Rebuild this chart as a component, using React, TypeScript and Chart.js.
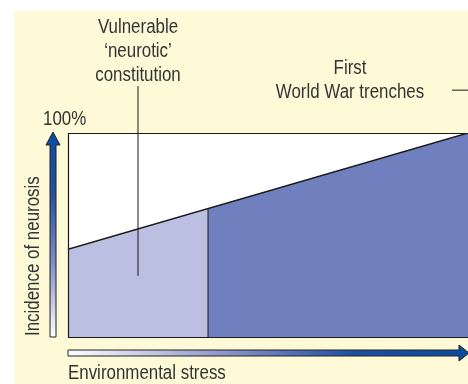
import React, { useEffect, useRef } from "react";
import { Chart, registerables } from "chart.js";

Chart.register(...registerables);

// Data (x = environmental stress 0..100, y = incidence of neurosis 0..100%)
const xRange = [0, 100];
const yRange = [0, 100];
const trendStart = { x: 0, y: 43 };
const trendEnd = { x: 100, y: 100 };
const splitX = 35;
const splitY = 63;
const vulnerableCallout = [{ x: 17.5, y: 30 }, { x: 17.5, y: 123 }];
const trenchesCallout = [{ x: 96, y: 121 }, { x: 101, y: 121 }];
const vulnerableLabel = ["Vulnerable", "\u2018neurotic\u2019", "constitution"];
const trenchesLabel = ["First", "World War trenches"];
const yTickLabel = "100%";
const yAxisTitle = "Incidence of neurosis";
const xAxisTitle = "Environmental stress";

const FONT = '20px "Liberation Sans", Arial, sans-serif';
const SQUEEZE = 0.845;
const TEXT = "#333333";
const CREAM = "#fef9d6";
const LIGHT = "#bbbfe1";
const DARK = "#7080be";

function narrowText(ctx: any, t: string, x: number, y: number, align: "left" | "center") {
  ctx.save();
  ctx.translate(x, y);
  ctx.scale(SQUEEZE, 1);
  ctx.textAlign = align;
  ctx.fillText(t, 0, 0);
  ctx.restore();
}

function decorPlugin() {
  return {
    id: "decor",
    beforeDraw(chart: any) {
      const { ctx, width, height, chartArea } = chart;
      ctx.save();
      ctx.fillStyle = "#ffffff";
      ctx.fillRect(0, 0, width, height);
      ctx.fillStyle = CREAM;
      ctx.fillRect(14, 11, width - 14, height - 11);
      ctx.fillStyle = "#ffffff";
      ctx.fillRect(chartArea.left, chartArea.top, chartArea.right - chartArea.left, chartArea.bottom - chartArea.top);
      ctx.restore();
    },
    afterDatasetsDraw(chart: any) {
      const { ctx, chartArea } = chart;
      const { left, top, right, bottom } = chartArea;
      ctx.save();
      ctx.strokeStyle = "#1a1a1a";
      ctx.lineWidth = 1.2;
      ctx.beginPath();
      ctx.moveTo(right + 2, top + 0.5);
      ctx.lineTo(left + 0.5, top + 0.5);
      ctx.lineTo(left + 0.5, bottom + 0.5);
      ctx.lineTo(right + 2, bottom + 0.5);
      ctx.stroke();

      // vertical arrow
      const vx = left - 15;
      const vg = ctx.createLinearGradient(0, top, 0, bottom);
      vg.addColorStop(0, "#0b4b9f");
      vg.addColorStop(0.3, "#2452a4");
      vg.addColorStop(0.65, "#8490c8");
      vg.addColorStop(1, "#ffffff");
      ctx.fillStyle = vg;
      ctx.strokeStyle = "#222";
      ctx.lineWidth = 1;
      ctx.beginPath();
      ctx.moveTo(vx, top - 1);
      ctx.lineTo(vx + 7, top + 12);
      ctx.lineTo(vx + 3, top + 12);
      ctx.lineTo(vx + 3, bottom);
      ctx.lineTo(vx - 3, bottom);
      ctx.lineTo(vx - 3, top + 12);
      ctx.lineTo(vx - 7, top + 12);
      ctx.closePath();
      ctx.fill();
      ctx.stroke();

      // horizontal arrow
      const hy = bottom + 16;
      const hg = ctx.createLinearGradient(left, 0, right, 0);
      hg.addColorStop(0, "#ffffff");
      hg.addColorStop(0.45, "#7a86c2");
      hg.addColorStop(0.72, "#1b4fa2");
      hg.addColorStop(1, "#0b4b9f");
      ctx.fillStyle = hg;
      ctx.beginPath();
      ctx.moveTo(left, hy - 3);
      ctx.lineTo(right - 9, hy - 3);
      ctx.lineTo(right - 9, hy - 8);
      ctx.lineTo(right + 1, hy);
      ctx.lineTo(right - 9, hy + 8);
      ctx.lineTo(right - 9, hy + 3);
      ctx.lineTo(left, hy + 3);
      ctx.closePath();
      ctx.fill();
      ctx.stroke();

      // texts
      ctx.fillStyle = TEXT;
      ctx.font = FONT;
      ctx.textBaseline = "alphabetic";
      const xs = chart.scales.x;
      const vcx = xs.getPixelForValue(vulnerableCallout[0].x);
      vulnerableLabel.forEach((t, i) => narrowText(ctx, t, vcx, 33 + i * 24, "center"));
      trenchesLabel.forEach((t, i) => narrowText(ctx, t, 350, 74 + i * 24, "center"));
      narrowText(ctx, yTickLabel, 43, 125, "left");
      narrowText(ctx, xAxisTitle, left, 379, "left");
      ctx.save();
      ctx.translate(39, bottom - 1);
      ctx.rotate(-Math.PI / 2);
      narrowText(ctx, yAxisTitle, 0, 0, "left");
      ctx.restore();
      ctx.restore();
    },
  };
}

export default function App() {
  const ref = useRef<HTMLCanvasElement>(null);
  useEffect(() => {
    if (!ref.current) return;
    const chart = new Chart(ref.current, {
      type: "line",
      data: {
        datasets: [
          {
            data: [trendStart, trendEnd],
            fill: false,
            borderColor: "#1a1a1a",
            borderWidth: 1.5,
            pointRadius: 0,
          },
          {
            data: [{ x: splitX, y: yRange[0] }, { x: splitX, y: splitY }],
            fill: false,
            borderColor: "#1a1a1a",
            borderWidth: 1,
            pointRadius: 0,
          },
          {
            data: vulnerableCallout,
            fill: false,
            borderColor: "#1a1a1a",
            borderWidth: 1,
            pointRadius: 0,
            clip: false,
          },
          {
            data: trenchesCallout,
            fill: false,
            borderColor: "#1a1a1a",
            borderWidth: 1,
            pointRadius: 0,
            clip: false,
          },
          {
            data: [trendStart, { x: splitX, y: splitY }],
            fill: "origin",
            backgroundColor: LIGHT,
            borderWidth: 0,
            pointRadius: 0,
          },
          {
            data: [{ x: splitX, y: splitY }, trendEnd],
            fill: "origin",
            backgroundColor: DARK,
            borderWidth: 0,
            pointRadius: 0,
          },
        ] as any,
      },
      options: {
        animation: false,
        responsive: false,
        devicePixelRatio: 1,
        layout: { padding: { left: 68, top: 133, right: 0, bottom: 47 } },
        plugins: { legend: { display: false }, tooltip: { enabled: false } },
        scales: {
          x: { type: "linear", min: xRange[0], max: xRange[1], display: false },
          y: { type: "linear", min: yRange[0], max: yRange[1], display: false },
        },
      },
      plugins: [decorPlugin()],
    });
    return () => chart.destroy();
  }, []);
  return (
    <div style={{ position: "absolute", left: 0, top: 0, width: 468, height: 384 }}>
      <canvas ref={ref} width={468} height={384} />
    </div>
  );
}
